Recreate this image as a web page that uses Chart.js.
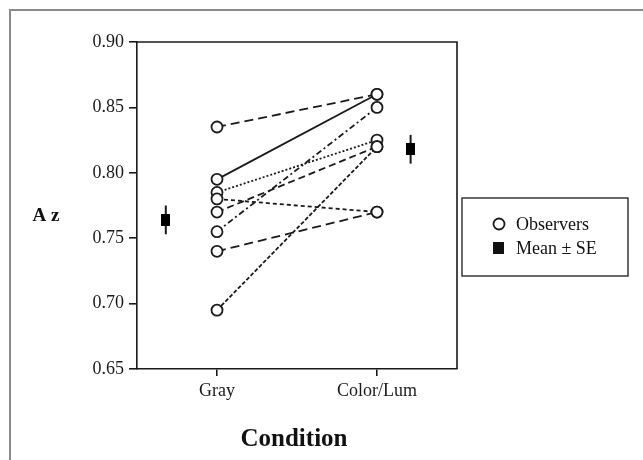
<!DOCTYPE html>
<html>
<head>
<meta charset="utf-8">
<script src="https://cdn.jsdelivr.net/npm/chart.js@4/dist/chart.umd.min.js"></script>
<style>
  html, body { margin: 0; padding: 0; background: #fff; }
  canvas { display: block; }
</style>
</head>
<body>
<canvas id="myChart" width="643" height="460"></canvas>
<script>
// data
const conditions = ['Gray', 'Color/Lum'];
const grayAz  = [0.835, 0.795, 0.785, 0.780, 0.770, 0.755, 0.740, 0.695];
const colorAz = [0.860, 0.860, 0.825, 0.770, 0.820, 0.850, 0.770, 0.820];
const meanAz  = [0.764, 0.818];
const seAz    = [0.011, 0.011];
const yTicks  = [0.65, 0.70, 0.75, 0.80, 0.85, 0.90];

// layout / style bits
const meanShift = [-0.32, 0.21];
const dashes = [[9, 5], [], [2, 2], [4, 3], [7, 4], [6, 3, 2, 3], [9, 5], [4, 2]];
const ink = '#1a1a1a';
const serif = '"Liberation Serif", "Times New Roman", serif';

// tall black square used for the means
const meanMark = document.createElement('canvas');
meanMark.width = 9;
meanMark.height = 12;
meanMark.getContext('2d').fillRect(0, 0, 9, 12);

const lineSets = grayAz.map((g, i) => ({
    type: 'scatter',
    showLine: true,
    data: [{x: 0, y: g}, {x: 1, y: colorAz[i]}],
    borderColor: ink,
    borderWidth: 1.8,
    borderDash: dashes[i],
    pointRadius: 0,
    order: 3
}));

const observerPts = grayAz.map(v => ({x: 0, y: v})).concat(colorAz.map(v => ({x: 1, y: v})));
const meanPts = meanAz.map((v, i) => ({x: i + meanShift[i], y: v}));

const decor = {
    id: 'decor',
    beforeDraw(chart) {
        const c = chart.ctx;
        c.save();
        c.fillStyle = '#fff';
        c.fillRect(0, 0, chart.width, chart.height);
        // outer frame of the figure
        c.strokeStyle = '#8a8a8a';
        c.lineWidth = 2;
        c.beginPath();
        c.moveTo(10, chart.height);
        c.lineTo(10, 10);
        c.lineTo(chart.width, 10);
        c.stroke();
        c.restore();
    },
    beforeDatasetsDraw(chart) {
        // error bars behind the mean squares
        const c = chart.ctx, xs = chart.scales.x, ys = chart.scales.y;
        c.save();
        c.strokeStyle = ink;
        c.lineWidth = 2;
        meanAz.forEach((m, i) => {
            const px = xs.getPixelForValue(i + meanShift[i]);
            c.beginPath();
            c.moveTo(px, ys.getPixelForValue(m + seAz[i]));
            c.lineTo(px, ys.getPixelForValue(m - seAz[i]));
            c.stroke();
        });
        c.restore();
    },
    afterDraw(chart) {
        const c = chart.ctx, a = chart.chartArea;
        c.save();
        c.strokeStyle = ink;
        c.lineWidth = 1.6;
        c.beginPath();
        c.moveTo(a.left, a.top);
        c.lineTo(a.right, a.top);
        c.lineTo(a.right, a.bottom);
        c.stroke();

        // axis titles
        c.fillStyle = '#111';
        c.textAlign = 'center';
        c.textBaseline = 'middle';
        c.font = 'bold 19px ' + serif;
        c.fillText('A z', 46, 216);
        c.font = 'bold 25px ' + serif;
        c.fillText('Condition', (a.left + a.right) / 2 - 3, 440);

        // legend
        c.lineWidth = 1.3;
        c.strokeRect(462, 198, 166, 78);
        c.lineWidth = 1.8;
        c.beginPath();
        c.arc(499, 224, 5.5, 0, Math.PI * 2);
        c.fillStyle = '#fff';
        c.fill();
        c.stroke();
        c.fillStyle = '#111';
        c.fillRect(493, 242, 11, 12);
        c.textAlign = 'left';
        c.font = '18px ' + serif;
        c.fillText('Observers', 516, 225);
        c.fillText('Mean \u00b1 SE', 516, 249);
        c.restore();
    }
};

new Chart(document.getElementById('myChart').getContext('2d'), {
    type: 'scatter',
    data: {
        datasets: lineSets.concat([
            {
                label: 'Observers',
                data: observerPts,
                pointStyle: 'circle',
                pointRadius: 5.5,
                pointBackgroundColor: '#fff',
                pointBorderColor: ink,
                pointBorderWidth: 1.8,
                order: 1
            },
            {
                label: 'Mean \u00b1 SE',
                data: meanPts,
                pointStyle: meanMark,
                pointRadius: 6,
                order: 0
            }
        ])
    },
    options: {
        responsive: false,
        animation: false,
        layout: { padding: { left: 0, right: 186, top: 42, bottom: 0 } },
        plugins: { legend: { display: false }, tooltip: { enabled: false } },
        scales: {
            x: {
                type: 'linear',
                min: -0.5,
                max: 1.5,
                afterBuildTicks: s => { s.ticks = conditions.map((_, i) => ({value: i})); },
                afterFit: s => { s.height = 91; },
                grid: { drawOnChartArea: false, tickLength: 7, color: ink, lineWidth: 1.6 },
                border: { color: ink, width: 1.6 },
                ticks: {
                    callback: v => conditions[v],
                    color: '#1a1a1a',
                    padding: 4,
                    maxRotation: 0,
                    font: { family: serif, size: 18 }
                }
            },
            y: {
                min: 0.65,
                max: 0.90,
                afterBuildTicks: s => { s.ticks = yTicks.map(v => ({value: v})); },
                afterFit: s => { s.width = 137; },
                grid: { drawOnChartArea: false, tickLength: 8, color: ink, lineWidth: 1.6 },
                border: { color: ink, width: 1.6 },
                ticks: {
                    callback: v => v.toFixed(2),
                    color: '#1a1a1a',
                    padding: 5,
                    font: { family: serif, size: 18 }
                }
            }
        }
    },
    plugins: [decor]
});
</script>
</body>
</html>
